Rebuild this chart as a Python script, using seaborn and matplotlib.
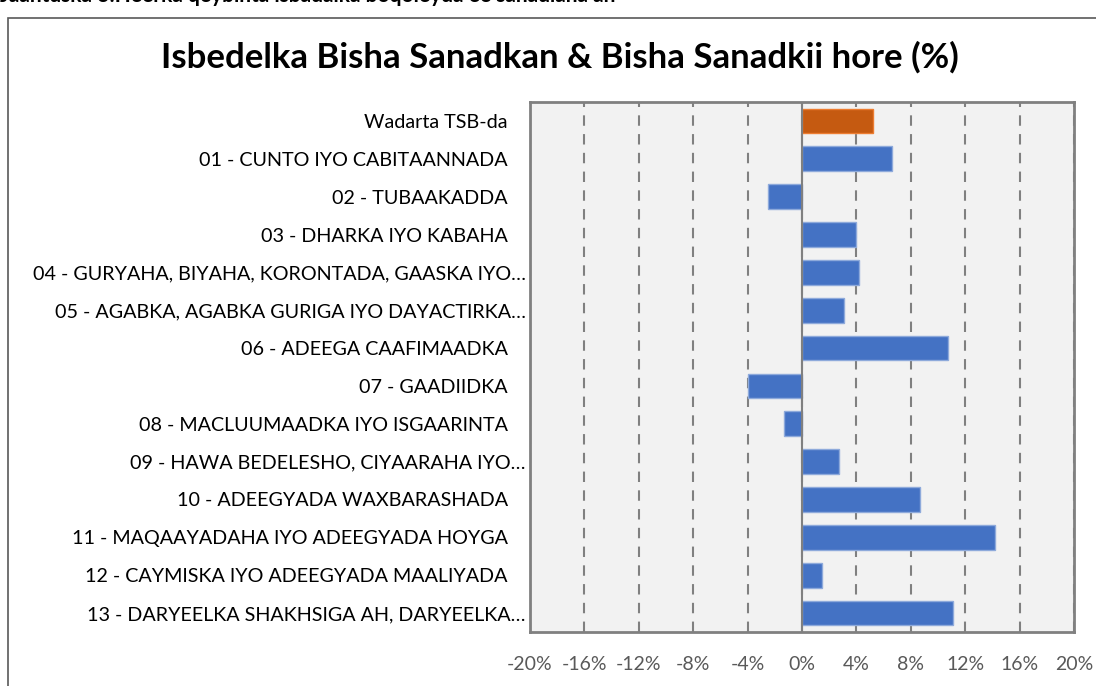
import matplotlib
matplotlib.use("Agg")
import matplotlib.pyplot as plt
import matplotlib.transforms as mtransforms
from matplotlib.patches import Rectangle
import seaborn as sns
import pandas as pd

categories = [
    "Wadarta TSB-da",
    "01 - CUNTO IYO CABITAANNADA",
    "02 - TUBAAKADDA",
    "03 - DHARKA IYO KABAHA",
    "04 - GURYAHA, BIYAHA, KORONTADA, GAASKA IYO…",
    "05 - AGABKA, AGABKA GURIGA IYO DAYACTIRKA…",
    "06 - ADEEGA CAAFIMAADKA",
    "07 - GAADIIDKA",
    "08 - MACLUUMAADKA IYO ISGAARINTA",
    "09 - HAWA BEDELESHO, CIYAARAHA IYO…",
    "10 - ADEEGYADA WAXBARASHADA",
    "11 - MAQAAYADAHA IYO ADEEGYADA HOYGA",
    "12 - CAYMISKA IYO ADEEGYADA MAALIYADA",
    "13 - DARYEELKA SHAKHSIGA AH, DARYEELKA…",
]
change_pct = [5.2, 6.6, -2.5, 4.0, 4.2, 3.1, 10.7, -4.0, -1.3, 2.7, 8.7, 14.2, 1.5, 11.1]
group = ["total"] + ["item"] * 13
xticks = [-20, -16, -12, -8, -4, 0, 4, 8, 12, 16, 20]

df = pd.DataFrame({"cat": categories, "val": change_pct, "grp": group})

sns.set_theme(style="white")
plt.rcParams["font.family"] = ["Lato", "DejaVu Sans"]

fig = plt.figure(figsize=(10.96, 6.86), dpi=100)
ax = fig.add_axes([530 / 1096, 54 / 686, 544 / 1096, 530 / 686])
ax.set_facecolor("#f2f2f2")

sns.barplot(data=df, x="val", y="cat", hue="grp", dodge=False, orient="h",
            palette={"total": "#c55a11", "item": "#4472c4"}, width=0.65,
            saturation=1, legend=False, ax=ax, zorder=3)
for bar, g in zip(ax.patches, group):
    bar.set_edgecolor("#ed7d31" if g == "total" else "#8eaadb")
    bar.set_linewidth(1.0)

ax.set_xlim(-20, 20)
ax.set_xticks(xticks)
ax.set_xticklabels([f"{t}%" for t in xticks])
ax.xaxis.grid(True, linestyle=(0, (5, 4)), color="#808080", linewidth=1.5, zorder=0)
ax.yaxis.grid(False)
ax.axvline(0, color="#808080", linewidth=1.5, zorder=4)
ax.set_xlabel("")
ax.set_ylabel("")
ax.tick_params(axis="x", length=0, pad=17, labelsize=14, labelcolor="#595959")
ax.tick_params(axis="y", length=0, pad=16, labelsize=14.2, labelcolor="#000000")
for s in ax.spines.values():
    s.set_color("#808080")
    s.set_linewidth(2)

# Excel leaves less gap for the truncated labels
shift = mtransforms.ScaledTranslation(18 / 100, 0, fig.dpi_scale_trans)
for lbl in ax.get_yticklabels():
    if lbl.get_text().endswith("…"):
        lbl.set_transform(lbl.get_transform() + shift)

fig.text(560 / 1096, 1 - 57 / 686, "Isbedelka Bisha Sanadkan & Bisha Sanadkii hore (%)",
         ha="center", va="center", fontsize=25, fontweight="bold", color="#000000")
# caption sits half off the top edge, as in the original export
fig.text(0.0, 1 - 2 / 686, "Jaantuska 3:Heerka qeybinta isbadalka boqoleyda ee sanadlaha ah",
         ha="left", va="baseline", fontsize=15, fontweight="bold", color="#000000")
fig.patches.append(Rectangle((8 / 1096, -0.1), 1.2, 1 - 18 / 686 + 0.1, transform=fig.transFigure,
                             fill=False, edgecolor="#595959", linewidth=1.2, zorder=0))

fig.savefig("out.png", dpi=100)
